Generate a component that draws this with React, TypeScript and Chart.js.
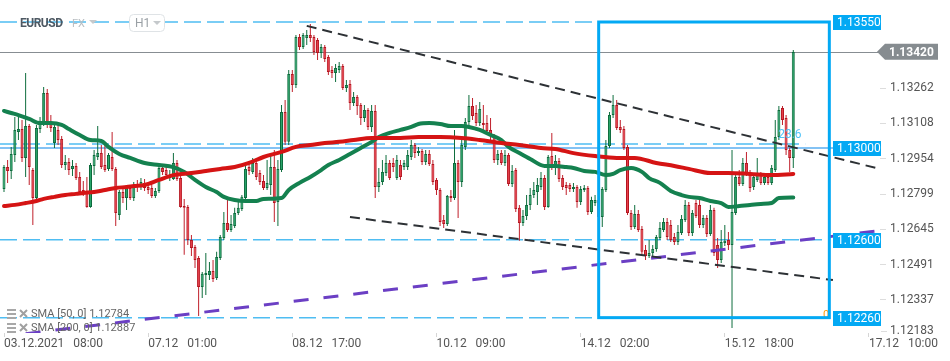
import React, { useEffect, useRef } from 'react';
import { Chart, registerables } from 'chart.js';

Chart.register(...registerables);

// ---- time axis ----
const xTickIndex = [0, 40, 80, 120, 160, 200, 240];
const xTickLabels = ['03.12.2021   08:00', '07.12   01:00', '08.12   17:00', '10.12   09:00', '14.12   02:00', '15.12   18:00', '17.12   10:00'];
const yTickValues = [1.13262, 1.13108, 1.12954, 1.12799, 1.12645, 1.12491, 1.12337];
const yTickLowest = 1.12183;

// ---- EURUSD H1 candles ----
const opens = [1.12821,1.12917,1.12900,1.12970,1.13070,1.13083,1.12957,1.13096,1.12904,1.12782,
1.13083,1.13109,1.13240,1.13114,1.13022,1.13079,1.13040,1.12926,1.12939,1.12909,
1.12922,1.12874,1.12817,1.12804,1.12743,1.12922,1.12961,1.12978,1.12926,1.12909,
1.12961,1.12909,1.12708,1.12808,1.12782,1.12826,1.12782,1.12839,1.12830,1.12848,
1.12830,1.12826,1.12791,1.12813,1.12913,1.12904,1.12869,1.12865,1.12935,1.12869,
1.12747,1.12743,1.12599,1.12568,1.12520,1.12394,1.12446,1.12446,1.12464,1.12433,
1.12520,1.12608,1.12673,1.12642,1.12660,1.12717,1.12734,1.12782,1.12917,1.12896,
1.12935,1.12891,1.12856,1.12826,1.12839,1.12917,1.12765,1.12904,1.13157,1.13027,
1.13323,1.13275,1.13485,1.13441,1.13480,1.13493,1.13485,1.13472,1.13415,1.13441,
1.13397,1.13341,1.13328,1.13341,1.13358,1.13262,1.13280,1.13197,1.13223,1.13188,
1.13131,1.13166,1.13092,1.13162,1.12830,1.12852,1.12891,1.12935,1.12935,1.12869,
1.12926,1.12917,1.12917,1.12961,1.13013,1.12978,1.12987,1.12939,1.12974,1.12930,
1.12861,1.12817,1.12686,1.12669,1.12791,1.12782,1.12935,1.12852,1.13005,1.13114,
1.13184,1.13153,1.13109,1.13109,1.13109,1.13079,1.13053,1.12948,1.12978,1.12935,
1.12970,1.12843,1.12904,1.12739,1.12673,1.12704,1.12752,1.12795,1.12808,1.12830,
1.12869,1.12743,1.12965,1.12917,1.12944,1.12869,1.12839,1.12839,1.12821,1.12830,
1.12765,1.12817,1.12826,1.12721,1.12760,1.12773,1.12699,1.12817,1.13009,1.13144,
1.13188,1.13092,1.13083,1.13005,1.12717,1.12656,1.12712,1.12647,1.12555,1.12529,
1.12542,1.12560,1.12608,1.12642,1.12677,1.12664,1.12612,1.12590,1.12629,1.12686,
1.12752,1.12629,1.12760,1.12752,1.12664,1.12695,1.12625,1.12730,1.12577,1.12512,
1.12586,1.12599,1.12577,1.12717,1.12874,1.12843,1.12935,1.12896,1.12830,1.12861,
1.12882,1.12848,1.12874,1.12848,1.12904,1.13048,1.13175,1.13131,1.12992,1.12957];

const highs = [1.12926,1.12948,1.13005,1.13135,1.13135,1.13122,1.13328,1.13105,1.12913,1.13101,
1.13135,1.13266,1.13258,1.13144,1.13114,1.13101,1.13053,1.12970,1.12957,1.12948,
1.12935,1.12896,1.12856,1.12874,1.12935,1.12992,1.13096,1.13013,1.13013,1.12978,
1.13070,1.12917,1.12817,1.12830,1.12839,1.12839,1.12852,1.12861,1.12869,1.12865,
1.12852,1.12839,1.12826,1.12926,1.12922,1.12917,1.12904,1.12978,1.12948,1.12891,
1.12778,1.12752,1.12621,1.12577,1.12529,1.12459,1.12542,1.12503,1.12512,1.12547,
1.12621,1.12721,1.12773,1.12708,1.12739,1.12773,1.12795,1.12922,1.12935,1.12957,
1.12957,1.12904,1.12882,1.12948,1.12970,1.12992,1.12948,1.13188,1.13210,1.13341,
1.13341,1.13493,1.13498,1.13502,1.13515,1.13541,1.13493,1.13480,1.13454,1.13450,
1.13406,1.13358,1.13367,1.13375,1.13367,1.13297,1.13297,1.13245,1.13232,1.13197,
1.13188,1.13175,1.13188,1.13188,1.12913,1.12948,1.12970,1.12948,1.12957,1.12970,
1.12948,1.12948,1.12992,1.13035,1.13022,1.13005,1.12996,1.12992,1.12992,1.12948,
1.12869,1.12826,1.12708,1.12795,1.12817,1.13079,1.12948,1.13035,1.13131,1.13232,
1.13218,1.13188,1.13201,1.13188,1.13144,1.13131,1.13061,1.12992,1.12992,1.12992,
1.12978,1.12926,1.12913,1.12752,1.12730,1.12795,1.12826,1.12852,1.12869,1.12896,
1.12882,1.12970,1.13066,1.12970,1.12957,1.12882,1.12852,1.12848,1.12848,1.12839,
1.12834,1.12839,1.12834,1.12787,1.12795,1.12782,1.12830,1.13035,1.13157,1.13232,
1.13210,1.13122,1.13096,1.13013,1.12730,1.12752,1.12730,1.12660,1.12577,1.12599,
1.12577,1.12621,1.12677,1.12695,1.12695,1.12686,1.12629,1.12664,1.12708,1.12773,
1.12765,1.12730,1.12773,1.12773,1.12708,1.12708,1.12752,1.12739,1.12608,1.12642,
1.12664,1.12634,1.12992,1.12882,1.12904,1.12957,1.12983,1.12904,1.12882,1.12957,
1.12896,1.12882,1.12891,1.12926,1.13122,1.13184,1.13184,1.13144,1.13000,1.13428];

const lows = [1.12808,1.12848,1.12865,1.12939,1.13035,1.12939,1.12874,1.12839,1.12664,1.12773,
1.13066,1.13096,1.13088,1.13070,1.13000,1.13013,1.12913,1.12904,1.12882,1.12878,
1.12861,1.12795,1.12791,1.12739,1.12739,1.12882,1.12948,1.12909,1.12896,1.12900,
1.12900,1.12660,1.12686,1.12760,1.12730,1.12773,1.12769,1.12808,1.12817,1.12813,
1.12800,1.12782,1.12782,1.12804,1.12882,1.12869,1.12856,1.12861,1.12856,1.12739,
1.12534,1.12577,1.12529,1.12477,1.12267,1.12346,1.12359,1.12424,1.12416,1.12424,
1.12512,1.12599,1.12634,1.12634,1.12651,1.12708,1.12725,1.12773,1.12882,1.12887,
1.12861,1.12839,1.12817,1.12817,1.12795,1.12677,1.12660,1.12896,1.13013,1.13013,
1.13245,1.13262,1.13428,1.13432,1.13450,1.13463,1.13406,1.13384,1.13393,1.13375,
1.13319,1.13306,1.13288,1.13328,1.13253,1.13245,1.13166,1.13184,1.13144,1.13101,
1.13114,1.13079,1.13070,1.12782,1.12808,1.12839,1.12878,1.12861,1.12896,1.12861,
1.12861,1.12904,1.12904,1.12948,1.12957,1.12965,1.12926,1.12926,1.12922,1.12839,
1.12795,1.12660,1.12651,1.12660,1.12765,1.12773,1.12695,1.12830,1.12992,1.13101,
1.13122,1.13096,1.13096,1.13079,1.13057,1.13035,1.12935,1.12926,1.12926,1.12922,
1.12834,1.12830,1.12721,1.12595,1.12660,1.12686,1.12730,1.12782,1.12752,1.12817,
1.12730,1.12739,1.12904,1.12882,1.12852,1.12817,1.12795,1.12808,1.12808,1.12739,
1.12752,1.12808,1.12708,1.12712,1.12747,1.12686,1.12656,1.12808,1.13000,1.13131,
1.13079,1.13066,1.12992,1.12708,1.12642,1.12647,1.12634,1.12538,1.12512,1.12520,
1.12529,1.12547,1.12599,1.12634,1.12599,1.12590,1.12577,1.12577,1.12621,1.12677,
1.12616,1.12616,1.12695,1.12651,1.12651,1.12612,1.12616,1.12529,1.12477,1.12498,
1.12573,1.12555,1.12215,1.12708,1.12834,1.12834,1.12878,1.12808,1.12817,1.12852,
1.12839,1.12839,1.12839,1.12839,1.12896,1.13035,1.13101,1.12970,1.12896,1.12913];

const closes = [1.12917,1.12900,1.12974,1.13079,1.13083,1.12957,1.13096,1.12917,1.12782,1.13088,
1.13109,1.13240,1.13109,1.13088,1.13092,1.13035,1.12926,1.12939,1.12904,1.12922,
1.12869,1.12808,1.12804,1.12743,1.12926,1.12970,1.12978,1.12917,1.12904,1.12970,
1.12909,1.12717,1.12808,1.12782,1.12826,1.12782,1.12830,1.12830,1.12852,1.12826,
1.12817,1.12791,1.12813,1.12913,1.12896,1.12882,1.12882,1.12935,1.12865,1.12743,
1.12739,1.12599,1.12564,1.12512,1.12394,1.12451,1.12455,1.12464,1.12429,1.12525,
1.12612,1.12673,1.12642,1.12669,1.12717,1.12739,1.12787,1.12909,1.12900,1.12935,
1.12874,1.12852,1.12826,1.12848,1.12917,1.12760,1.12909,1.13157,1.13027,1.13323,
1.13275,1.13485,1.13441,1.13493,1.13493,1.13480,1.13419,1.13415,1.13441,1.13389,
1.13332,1.13328,1.13349,1.13358,1.13262,1.13275,1.13197,1.13223,1.13184,1.13131,
1.13166,1.13092,1.13162,1.12830,1.12852,1.12896,1.12935,1.12869,1.12917,1.12948,
1.12874,1.12935,1.12970,1.13013,1.12978,1.12987,1.12939,1.12974,1.12930,1.12852,
1.12817,1.12677,1.12669,1.12791,1.12782,1.12935,1.12852,1.13013,1.13114,1.13184,
1.13140,1.13109,1.13170,1.13101,1.13074,1.13053,1.12948,1.12974,1.12935,1.12970,
1.12843,1.12900,1.12734,1.12673,1.12704,1.12752,1.12795,1.12817,1.12839,1.12869,
1.12743,1.12961,1.12917,1.12944,1.12865,1.12830,1.12826,1.12821,1.12830,1.12765,
1.12821,1.12826,1.12721,1.12773,1.12773,1.12699,1.12821,1.13009,1.13144,1.13188,
1.13088,1.13079,1.13000,1.12717,1.12656,1.12712,1.12642,1.12547,1.12529,1.12542,
1.12560,1.12612,1.12651,1.12677,1.12612,1.12599,1.12590,1.12634,1.12690,1.12752,
1.12629,1.12717,1.12704,1.12664,1.12695,1.12625,1.12730,1.12542,1.12512,1.12590,
1.12595,1.12577,1.12721,1.12874,1.12843,1.12935,1.12891,1.12826,1.12874,1.12891,
1.12848,1.12874,1.12848,1.12913,1.13048,1.13166,1.13122,1.12992,1.12957,1.13419];

// ---- moving averages (read at sample bars) ----
const sma50Idx = [0,2,4,7,10,13,16,18,21,24,27,29,32,35,39,43,47,50,53,56,59,61,64,67,70,72,77,79,82,85,88,90,93,96,99,102,104,107,110,113,115,118,121,124,127,129,132,135,138,140,143,146,150,153,156,158,161,164,167,169,171,174,177,179,182,185,188,190,193,196,199,201,204,207,210,213,215,219];
const sma50Val = [1.13162,1.13153,1.13144,1.13127,1.13109,1.13109,1.13101,1.13083,1.13057,1.13035,1.13031,1.13005,1.12974,1.12957,1.12935,1.12926,1.12917,1.12896,1.12861,1.12830,1.12808,1.12787,1.12773,1.12769,1.12769,1.12778,1.12782,1.12817,1.12848,1.12874,1.12904,1.12926,1.12948,1.12974,1.13000,1.13027,1.13048,1.13066,1.13079,1.13092,1.13105,1.13109,1.13105,1.13096,1.13096,1.13092,1.13079,1.13057,1.13035,1.13005,1.12978,1.12952,1.12922,1.12922,1.12917,1.12913,1.12900,1.12896,1.12882,1.12887,1.12904,1.12913,1.12896,1.12869,1.12848,1.12813,1.12795,1.12787,1.12782,1.12769,1.12760,1.12743,1.12747,1.12752,1.12756,1.12760,1.12782,1.12784];
const sma200Idx = [0,3,6,9,11,14,17,20,22,25,28,31,34,36,39,43,47,52,56,60,64,68,72,77,81,85,89,93,97,102,106,110,115,121,127,132,138,143,149,153,158,164,170,175,181,186,190,196,201,207,213,219];
const sma200Val = [1.12747,1.12752,1.12760,1.12769,1.12778,1.12787,1.12795,1.12800,1.12804,1.12808,1.12817,1.12826,1.12830,1.12834,1.12839,1.12861,1.12882,1.12891,1.12900,1.12909,1.12917,1.12935,1.12961,1.12983,1.13005,1.13013,1.13022,1.13027,1.13035,1.13044,1.13044,1.13044,1.13048,1.13048,1.13044,1.13035,1.13022,1.13013,1.13000,1.12996,1.12978,1.12965,1.12957,1.12957,1.12935,1.12922,1.12909,1.12891,1.12891,1.12887,1.12882,1.12887];

// ---- drawings ----
const upperTrendIdx = [84, 242];
const upperTrendVal = [1.13533, 1.12913];
const lowerTrendIdx = [96, 230];
const lowerTrendVal = [1.12699, 1.12424];
const risingTrendIdx = [6, 242];
const risingTrendVal = [1.1219, 1.12638];
const levelPrices = [1.1355, 1.13018, 1.126, 1.1226];
const levelEnds = [228.5, 222.3, 228.5, 228.5];
const supportLevel = 1.13;
const boxIdx = [165, 229];
const boxVal = [1.1355, 1.1226];
const tagPrices = [1.1355, 1.13, 1.126, 1.1226];
const lastPrice = 1.1342;
const legendLines = ['SMA [50, 0] 1.12784', 'SMA [200, 0] 1.12887'];

const FONT = 'Roboto';
const BLUE = '#03a9f4';

const overlayPlugin = {
  id: 'overlay',
  beforeDatasetsDraw(chart: any) {
    const { ctx, scales } = chart;
    const xs = scales.x, ys = scales.y;
    ctx.save();
    let py = Math.round(ys.getPixelForValue(lastPrice)) + 0.5;
    ctx.strokeStyle = '#878d92';
    ctx.lineWidth = 1;
    ctx.beginPath(); ctx.moveTo(0, py); ctx.lineTo(880, py); ctx.stroke();

    py = ys.getPixelForValue(supportLevel);
    ctx.strokeStyle = '#5aaef0';
    ctx.lineWidth = 1.5;
    ctx.beginPath(); ctx.moveTo(0, py); ctx.lineTo(833, py); ctx.stroke();

    ctx.setLineDash([17, 6]);
    ctx.strokeStyle = '#4fbdf2';
    ctx.lineWidth = 1.5;
    levelPrices.forEach((p, k) => {
      const yy = ys.getPixelForValue(p);
      ctx.beginPath(); ctx.moveTo(0, yy); ctx.lineTo(xs.getPixelForValue(levelEnds[k]), yy); ctx.stroke();
    });
    ctx.restore();
  },
  afterDatasetsDraw(chart: any) {
    const { ctx, scales } = chart;
    const xs = scales.x, ys = scales.y;
    ctx.save();
    ctx.font = `12px ${FONT}`;
    ctx.fillStyle = '#4fc3f7';
    ctx.textBaseline = 'middle';
    ctx.fillText('23.6', xs.getPixelForValue(levelEnds[1]) - 27, ys.getPixelForValue(levelPrices[1]) - 9);
    ctx.fillStyle = '#ff9800';
    ctx.font = `11px ${FONT}`;
    ctx.fillText('0', 823, ys.getPixelForValue(levelPrices[3]) - 2);

    const x1 = xs.getPixelForValue(boxIdx[0]);
    const x2 = xs.getPixelForValue(boxIdx[1]);
    const y1 = ys.getPixelForValue(boxVal[0]);
    const y2 = ys.getPixelForValue(boxVal[1]);
    ctx.strokeStyle = BLUE;
    ctx.lineWidth = 3;
    ctx.strokeRect(x1, y1, x2 - x1, y2 - y1);
    ctx.restore();
  },
  afterDraw(chart: any) {
    const { ctx, scales } = chart;
    const ys = scales.y;
    ctx.save();
    ctx.textBaseline = 'middle';
    // blue price tags
    tagPrices.forEach((p) => {
      const yy = ys.getPixelForValue(p);
      ctx.fillStyle = BLUE;
      ctx.fillRect(833, Math.round(yy - 7), 48, 15);
      ctx.fillStyle = '#ffffff';
      ctx.font = `12px ${FONT}`;
      ctx.fillText(p.toFixed(5), 837, Math.round(yy - 7) + 8);
    });
    // last price tag
    const ly = ys.getPixelForValue(lastPrice);
    ctx.fillStyle = '#868c90';
    ctx.beginPath();
    ctx.moveTo(877, ly);
    ctx.lineTo(885, ly - 8);
    ctx.lineTo(938, ly - 8);
    ctx.lineTo(938, ly + 8);
    ctx.lineTo(885, ly + 8);
    ctx.closePath();
    ctx.fill();
    ctx.fillStyle = '#ffffff';
    ctx.font = `bold 12px ${FONT}`;
    ctx.fillText(lastPrice.toFixed(5), 889, ly + 1);
    // lowest axis label (clamped into view)
    ctx.fillStyle = '#555';
    ctx.font = `12px ${FONT}`;
    ctx.fillText(yTickLowest.toFixed(5), 890, 331);
    ctx.strokeStyle = '#dddddd';
    ctx.lineWidth = 1;
    ctx.beginPath(); ctx.moveTo(881, 331.5); ctx.lineTo(887, 331.5); ctx.stroke();

    // title
    ctx.fillStyle = '#4e5963';
    ctx.font = `bold 12px ${FONT}`;
    (ctx as any).letterSpacing = '-0.5px';
    ctx.fillText('EURUSD', 20, 24);
    (ctx as any).letterSpacing = '0px';
    ctx.fillStyle = '#b9bec2';
    ctx.font = `11px ${FONT}`;
    ctx.fillText('FX', 72, 24);
    ctx.fillStyle = '#c5c9cc';
    ctx.beginPath(); ctx.moveTo(89, 20); ctx.lineTo(97, 20); ctx.lineTo(93, 24); ctx.closePath(); ctx.fill();
    ctx.fillStyle = '#ffffff';
    ctx.strokeStyle = '#dfe3e6';
    ctx.beginPath();
    (ctx as any).roundRect(129.5, 14.5, 35, 17, 4);
    ctx.fill();
    ctx.stroke();
    ctx.fillStyle = '#9aa0a5';
    ctx.font = `12px ${FONT}`;
    ctx.fillText('H1', 135, 24);
    ctx.fillStyle = '#c5c9cc';
    ctx.beginPath(); ctx.moveTo(153, 21); ctx.lineTo(161, 21); ctx.lineTo(157, 25); ctx.closePath(); ctx.fill();

    // legend
    legendLines.forEach((t, k) => {
      const cy = 314 + k * 14;
      ctx.fillStyle = '#a8a8a8';
      ctx.fillRect(7, cy - 5, 9, 2);
      ctx.fillRect(7, cy - 1, 9, 2);
      ctx.fillRect(7, cy + 3, 9, 2);
      ctx.strokeStyle = '#a0a0a0';
      ctx.lineWidth = 2;
      ctx.beginPath();
      ctx.moveTo(20, cy - 4); ctx.lineTo(27, cy + 3);
      ctx.moveTo(27, cy - 4); ctx.lineTo(20, cy + 3);
      ctx.stroke();
      ctx.fillStyle = '#666';
      ctx.font = `11px ${FONT}`;
      ctx.fillText(t, 31, cy);
    });
    ctx.restore();
  },
};

export default function App() {
  const canvasRef = useRef<HTMLCanvasElement>(null);

  useEffect(() => {
    const canvas = canvasRef.current;
    if (!canvas) return;
    const up = closes.map((c, i) => c >= opens[i]);
    const bodyData = closes.map((c, i) => ({ x: i, y: [opens[i], c] }));
    const wickData = closes.map((c, i) => ({ x: i, y: [lows[i], highs[i]] }));
    const pts = (xs: number[], vs: number[]) => xs.map((x, k) => ({ x, y: vs[k] }));

    const chart = new Chart(canvas, {
      type: 'bar',
      data: {
        datasets: [
          {
            type: 'line',
            data: pts(upperTrendIdx, upperTrendVal),
            borderColor: '#2d3135',
            borderWidth: 2,
            borderDash: [10, 6],
            pointRadius: 0,
            order: 0,
          } as any,
          {
            type: 'line',
            data: pts(lowerTrendIdx, lowerTrendVal),
            borderColor: '#2d3135',
            borderWidth: 2,
            borderDash: [10, 6],
            pointRadius: 0,
            order: 0,
          },
          {
            type: 'line',
            data: pts(risingTrendIdx, risingTrendVal),
            borderColor: '#6b3fc4',
            borderWidth: 3,
            borderDash: [15, 15],
            pointRadius: 0,
            order: 0,
          },
          {
            type: 'line',
            data: pts(sma200Idx, sma200Val),
            borderColor: '#d51414',
            borderWidth: 4,
            pointRadius: 0,
            cubicInterpolationMode: 'monotone',
            borderCapStyle: 'round',
            borderJoinStyle: 'round',
            order: 1,
          },
          {
            type: 'line',
            data: pts(sma50Idx, sma50Val),
            borderColor: '#14814f',
            borderWidth: 4,
            pointRadius: 0,
            cubicInterpolationMode: 'monotone',
            borderCapStyle: 'round',
            borderJoinStyle: 'round',
            order: 1,
          },
          {
            type: 'bar',
            data: bodyData,
            backgroundColor: up.map((u) => (u ? '#2aa56b' : '#e8404b')),
            borderColor: up.map((u) => (u ? '#0c6b3c' : '#b5141f')),
            borderWidth: 1,
            borderSkipped: false,
            barThickness: 3,
            minBarLength: 1,
            grouped: false,
            inflateAmount: 0,
            order: 2,
          },
          {
            type: 'bar',
            data: wickData,
            backgroundColor: up.map((u) => (u ? '#0f6e3e' : '#c0202b')),
            borderWidth: 0,
            barThickness: 1,
            grouped: false,
            inflateAmount: 0,
            order: 3,
          },
        ] as any,
      },
      options: {
        responsive: false,
        maintainAspectRatio: false,
        animation: false,
        devicePixelRatio: 1,
        events: [],
        layout: { padding: 0, autoPadding: false } as any,
        plugins: { legend: { display: false }, tooltip: { enabled: false } },
        scales: {
          x: {
            type: 'linear',
            position: 'bottom',
            min: -1.11,
            max: 243.06,
            offset: false,
            grid: { display: true, drawOnChartArea: false, drawTicks: true, tickLength: 4, color: '#d5d5d5', offset: false },
            border: { display: false },
            ticks: {
              autoSkip: false,
              maxRotation: 0,
              minRotation: 0,
              align: 'start',
              padding: 0,
              color: '#555',
              font: { family: FONT, size: 12 },
              callback: (v: any) => {
                const k = xTickIndex.indexOf(Number(v));
                return k >= 0 ? xTickLabels[k] : '';
              },
            },
            afterBuildTicks: (axis: any) => {
              axis.ticks = xTickIndex.map((v) => ({ value: v }));
            },
            afterFit: (axis: any) => {
              axis.height = 28;
              axis.paddingLeft = 0;
              axis.paddingRight = 0;
            },
          } as any,
          y: {
            type: 'linear',
            position: 'right',
            min: 1.12193,
            max: 1.13646,
            grid: { display: true, drawOnChartArea: false, drawTicks: true, tickLength: 6, color: '#dddddd' },
            border: { display: false },
            ticks: {
              padding: 4,
              color: '#555',
              font: { family: FONT, size: 12 },
              callback: (v: any) => Number(v).toFixed(5),
            },
            afterBuildTicks: (axis: any) => {
              axis.ticks = yTickValues.map((v) => ({ value: v }));
            },
            afterFit: (axis: any) => {
              axis.width = 70;
              axis.paddingTop = 0;
              axis.paddingBottom = 0;
            },
          } as any,
        },
      },
      plugins: [overlayPlugin],
    } as any);

    return () => chart.destroy();
  }, []);

  return (
    <div style={{ position: 'fixed', left: 0, top: 0, width: 950, height: 361, background: '#ffffff' }}>
      <canvas ref={canvasRef} width={950} height={361} style={{ display: 'block', width: 950, height: 361 }} />
    </div>
  );
}
